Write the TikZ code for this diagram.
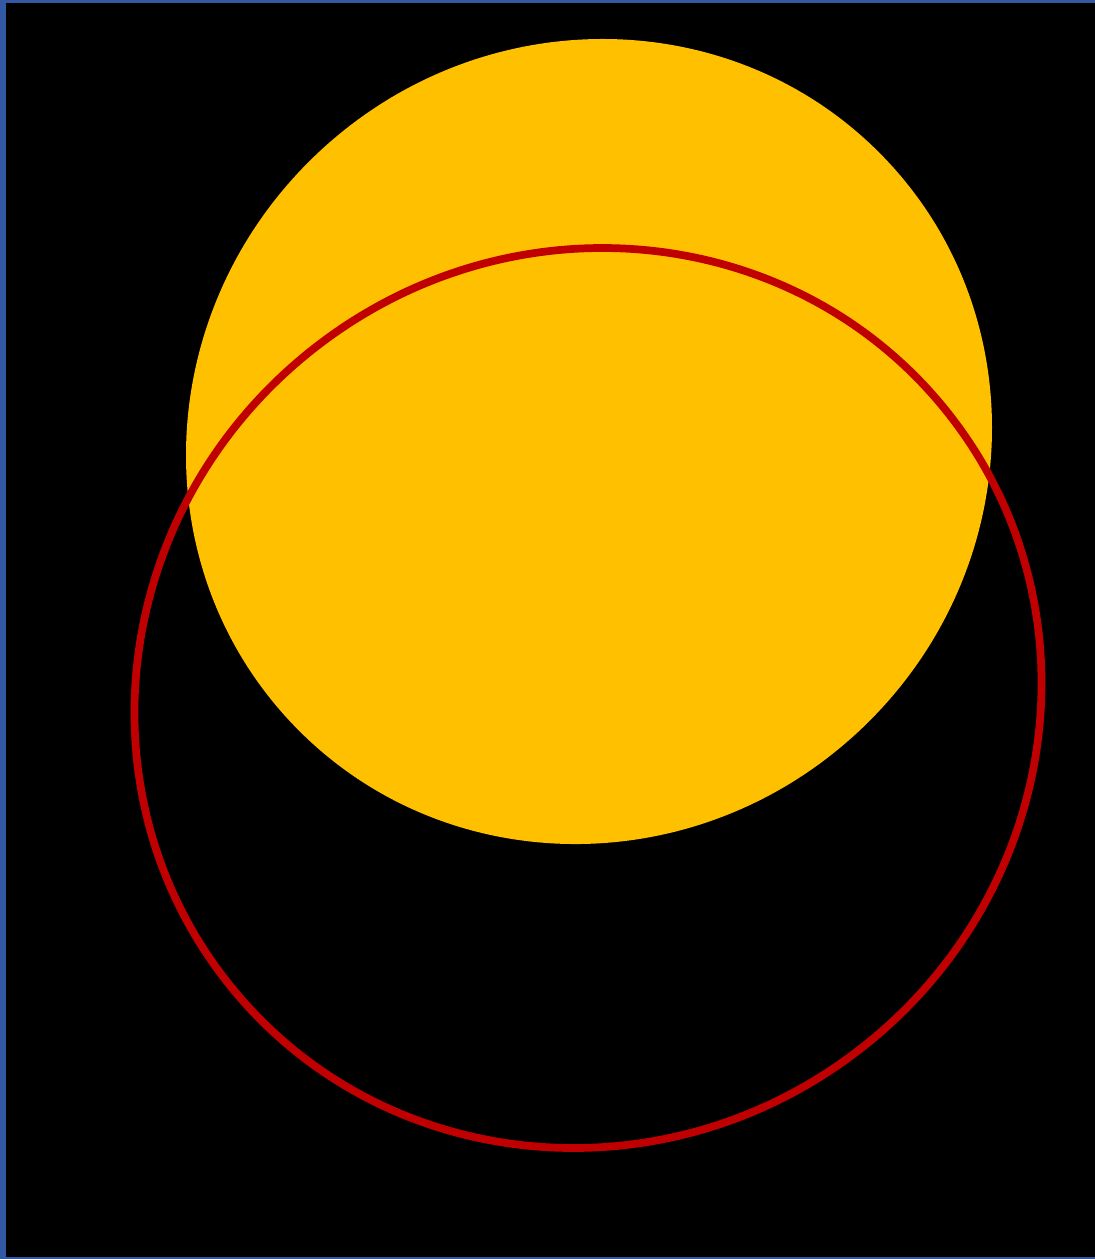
\documentclass[tikz,border=0pt]{standalone}
\usepackage{xcolor}
\definecolor{frameblue}{HTML}{3358A4}
\definecolor{sunyellow}{HTML}{FFC000}
\definecolor{ringred}{HTML}{C00000}

\begin{document}
\begin{tikzpicture}[x=0.02cm,y=-0.02cm]
\useasboundingbox (0,0) rectangle (1095,1259);
\fill[frameblue] (0,0) rectangle (1095,1259);
\fill[black] (6,3) rectangle (1095,1257);
\fill[sunyellow,rotate around={44:(589,441.5)}] (589,441.5) ellipse [x radius=409.5,y radius=395.9];
\draw[ringred,line width=4.4pt,rotate around={38.2:(588,698)}] (588,698) ellipse [x radius=459.2,y radius=444.2];
\end{tikzpicture}
\end{document}
